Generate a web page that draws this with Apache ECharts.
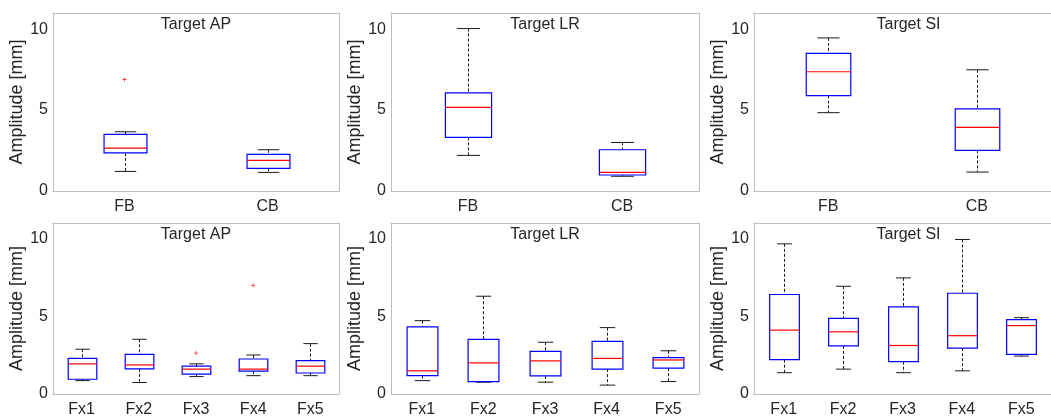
<!DOCTYPE html>
<html><head><meta charset="utf-8">
<script src="https://cdn.jsdelivr.net/npm/echarts@6/dist/echarts.min.js"></script>
<style>html,body{margin:0;padding:0;background:#fff;overflow:hidden}#c{width:1051px;height:418px}</style>
</head><body><div id="c"></div>
<script>
// ---------- data ----------
const categoriesTop = ['FB', 'CB'];
const categoriesBottom = ['Fx1', 'Fx2', 'Fx3', 'Fx4', 'Fx5'];
const panelTitles = ['Target AP', 'Target LR', 'Target SI', 'Target AP', 'Target LR', 'Target SI'];
const yAxisName = 'Amplitude [mm]';
const yTickValues = [0, 5, 10];
// each box: [lower whisker, Q1, median, Q3, upper whisker]
const apGroup = [[1.21, 2.35, 2.65, 3.50, 3.66], [1.15, 1.40, 1.89, 2.26, 2.55]];
const lrGroup = [[2.20, 3.31, 5.17, 6.07, 10.04], [0.91, 0.99, 1.15, 2.55, 3.00]];
const siGroup = [[4.84, 5.90, 7.37, 8.50, 9.46], [1.17, 2.51, 3.93, 5.08, 7.49]];
const apFx = [[0.86, 0.95, 1.94, 2.29, 2.88], [0.74, 1.62, 1.87, 2.55, 3.52], [1.12, 1.28, 1.60, 1.79, 1.94], [1.18, 1.47, 1.60, 2.25, 2.51], [1.18, 1.35, 1.79, 2.15, 3.24]];
const lrFx = [[0.86, 1.18, 1.49, 4.32, 4.72], [0.76, 0.80, 2.00, 3.52, 6.29], [0.76, 1.16, 2.13, 2.74, 3.33], [0.57, 1.60, 2.29, 3.39, 4.27], [0.80, 1.66, 2.19, 2.34, 2.78]];
const siFx = [[1.37, 2.21, 4.11, 6.40, 9.66], [1.60, 3.09, 4.00, 4.86, 6.93], [1.37, 2.08, 3.12, 5.60, 7.47], [1.49, 2.95, 3.75, 6.48, 9.94], [2.44, 2.55, 4.40, 4.78, 4.91]];
// outliers: [category index, value]
const apGroupOutliers = [[0, 6.89]];
const lrGroupOutliers = [];
const siGroupOutliers = [];
const apFxOutliers = [[2, 2.63], [3, 6.99]];
const lrFxOutliers = [];
const siFxOutliers = [];

// ---------- layout / style ----------
const FONT = '"Liberation Sans", Arial, Helvetica, sans-serif';
const TEXT = '#262626';
const AXIS = '#bdbdbd';
const grids = [
  {left: 53, top: 13, width: 286, height: 178},
  {left: 391, top: 13, width: 308, height: 178},
  {left: 754, top: 13, width: 309, height: 178},
  {left: 53, top: 223, width: 286, height: 173},
  {left: 391, top: 223, width: 308, height: 173},
  {left: 754, top: 223, width: 309, height: 173}
];
const nameGaps = [23, 27, 24, 23, 27, 24];
const panels = [
  {cats: categoriesTop, boxes: apGroup, out: apGroupOutliers, frac: 0.3},
  {cats: categoriesTop, boxes: lrGroup, out: lrGroupOutliers, frac: 0.3},
  {cats: categoriesTop, boxes: siGroup, out: siGroupOutliers, frac: 0.3},
  {cats: categoriesBottom, boxes: apFx, out: apFxOutliers, frac: 0.5},
  {cats: categoriesBottom, boxes: lrFx, out: lrFxOutliers, frac: 0.5},
  {cats: categoriesBottom, boxes: siFx, out: siFxOutliers, frac: 0.5}
];

function makeRender(frac) {
  return function (params, api) {
    const c = api.value(0);
    const band = api.size([1, 0])[0];
    const bw = band * frac, cw = bw / 2;
    const pL = api.coord([c, api.value(1)]);
    const p1 = api.coord([c, api.value(2)]);
    const pM = api.coord([c, api.value(3)]);
    const p3 = api.coord([c, api.value(4)]);
    const pH = api.coord([c, api.value(5)]);
    const x = Math.round(pM[0]) + 0.5;
    const dash = {stroke: '#1a1a1a', lineWidth: 1, lineDash: [3, 2]};
    const solid = {stroke: '#1a1a1a', lineWidth: 1};
    return {type: 'group', children: [
      {type: 'line', shape: {x1: x, y1: pH[1], x2: x, y2: p3[1]}, style: dash},
      {type: 'line', shape: {x1: x, y1: p1[1], x2: x, y2: pL[1]}, style: dash},
      {type: 'line', shape: {x1: x - cw / 2, y1: pH[1], x2: x + cw / 2, y2: pH[1]}, style: solid},
      {type: 'line', shape: {x1: x - cw / 2, y1: pL[1], x2: x + cw / 2, y2: pL[1]}, style: solid},
      {type: 'rect', shape: {x: x - bw / 2, y: p3[1], width: bw, height: p1[1] - p3[1]}, style: {fill: 'rgba(0,0,0,0)', stroke: '#0000ff', lineWidth: 1.2}},
      {type: 'line', shape: {x1: x - bw / 2, y1: pM[1], x2: x + bw / 2, y2: pM[1]}, style: {stroke: '#ff0000', lineWidth: 1.2}}
    ]};
  };
}

const xAxes = [], yAxes = [], series = [], graphics = [];
panels.forEach((p, i) => {
  const tickStyle = {inside: true, length: 3, alignWithLabel: true, lineStyle: {color: AXIS}};
  xAxes.push({gridIndex: i, type: 'category', data: p.cats, position: 'bottom', boundaryGap: true,
    axisLine: {onZero: false, lineStyle: {color: AXIS, width: 1}}, axisTick: tickStyle,
    axisLabel: {color: TEXT, fontSize: 16, fontFamily: FONT, margin: 8}, splitLine: {show: false}});
  xAxes.push({gridIndex: i, type: 'category', data: p.cats, position: 'top', boundaryGap: true,
    axisLine: {onZero: false, lineStyle: {color: AXIS, width: 1}}, axisTick: tickStyle,
    axisLabel: {show: false}, splitLine: {show: false}});
  const ytick = {inside: true, length: 3, lineStyle: {color: AXIS}};
  yAxes.push({gridIndex: i, type: 'value', min: yTickValues[0], max: 11, interval: yTickValues[1] - yTickValues[0], position: 'left',
    axisLine: {show: true, onZero: false, lineStyle: {color: AXIS, width: 1}}, axisTick: ytick,
    axisLabel: {color: TEXT, fontSize: 16, fontFamily: FONT, margin: 5, showMaxLabel: false},
    splitLine: {show: false},
    name: yAxisName, nameLocation: 'middle', nameGap: nameGaps[i],
    nameTextStyle: {color: TEXT, fontSize: 18, fontFamily: FONT}});
  yAxes.push({gridIndex: i, type: 'value', min: yTickValues[0], max: 11, interval: yTickValues[1] - yTickValues[0], position: 'right',
    axisLine: {show: true, onZero: false, lineStyle: {color: AXIS, width: 1}}, axisTick: ytick,
    axisLabel: {show: false}, splitLine: {show: false}});
  series.push({type: 'custom', xAxisIndex: 2 * i, yAxisIndex: 2 * i, renderItem: makeRender(p.frac),
    encode: {x: 0, y: [1, 2, 3, 4, 5]},
    data: p.boxes.map((b, k) => [k].concat(b)), z: 3, silent: true});
  if (p.out.length) {
    series.push({type: 'scatter', xAxisIndex: 2 * i, yAxisIndex: 2 * i, data: p.out,
      symbol: 'path://M-0.2,-1H0.2V-0.2H1V0.2H0.2V1H-0.2V0.2H-1V-0.2H-0.2Z',
      symbolSize: 4, itemStyle: {color: '#ff0000'}, z: 4, silent: true});
  }
  const g = grids[i];
  graphics.push({type: 'text', x: g.left + g.width / 2, y: g.top + 11.5,
    style: {text: panelTitles[i], fill: TEXT, font: '16px ' + FONT, textAlign: 'center', textVerticalAlign: 'middle'}, z: 10});
});

const chart = echarts.init(document.getElementById('c'), null, {renderer: 'canvas'});
chart.setOption({
  animation: false,
  backgroundColor: '#ffffff',
  grid: grids,
  xAxis: xAxes,
  yAxis: yAxes,
  series: series,
  graphic: graphics
});
</script>
</body></html>
